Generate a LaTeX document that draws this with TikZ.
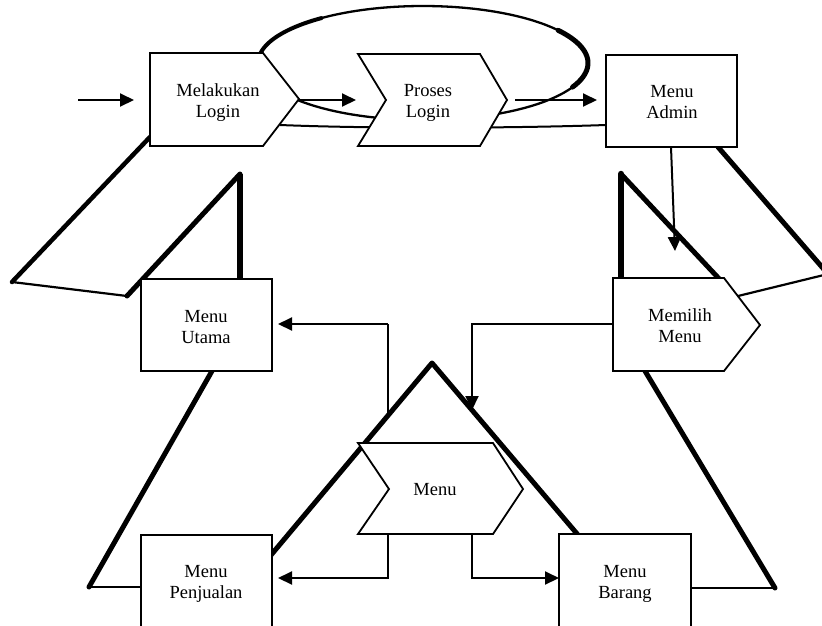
\documentclass[tikz,border=0pt]{standalone}
\usepackage{fontspec}
\setmainfont{Liberation Serif}
\usetikzlibrary{arrows.meta}
\begin{document}
\begin{tikzpicture}[x=1pt,y=-1pt,
  box/.style={draw,line width=1.8pt,fill=white,line join=miter},
  heavy/.style={line width=5pt,line join=round,line cap=round},
  lite/.style={line width=2.2pt,line cap=round},
  conn/.style={line width=2pt},
  arr/.style={conn,-{Triangle[length=14pt,width=13pt]}},
  lbl/.style={font=\fontsize{18.5}{21}\selectfont,align=center,inner sep=0pt}
]
\useasboundingbox (0,0) rectangle (822,625);
\begin{scope}
\clip (0,0) rectangle (822,625);
% ---------- top loop (ellipse) ----------
\draw[line width=2.3pt] (423,63) ellipse [x radius=165pt, y radius=57pt];
\draw[line width=5pt,line cap=round] plot[domain=-25:35,samples=40] ({423+165*cos(\x)},{63-57*sin(\x)});
\draw[line width=4pt,line cap=round] plot[domain=128:170,samples=30] ({423+165*cos(\x)},{63-57*sin(\x)});
% ---------- coordinates ----------
\coordinate (start) at (78,100);
\coordinate (mlIn) at (134,100);
\coordinate (mlTip) at (299,100);
\coordinate (mlLow) at (280,125);
\coordinate (prIn) at (356,100);
\coordinate (prTip) at (515,100);
\coordinate (adIn) at (597,100);
\coordinate (adLow) at (606,125);
\coordinate (adBot) at (671,147);
\coordinate (mmTop) at (675,251);
\coordinate (mmL) at (613,324);
\coordinate (triR) at (472,410);
\coordinate (triL) at (388,416);
\coordinate (muR) at (278,324);
\coordinate (mnBL) at (388,534);
\coordinate (mnBR) at (472,534);
\coordinate (mpR) at (278,578);
\coordinate (mbL) at (559,578);
% ---------- thick outline strokes ----------
% left upper
\draw[line width=4.5pt,line cap=round] (150,137) -- (12,282);
\draw[lite] (12,282) -- (127,296);
\draw[heavy] (127,296) -- (240,174);
\draw[line width=6pt,line join=round] (240,174) -- (240,282);
% right upper
\draw[line width=6.5pt,line cap=round] (621,282) -- (621,174);
\draw[heavy] (621,174) -- (724,284);
\draw[heavy] (718,147) -- (828,274);
\draw[lite] (828,274) -- (738,296);
% left lower
\draw[heavy] (212,371) -- (89,587);
\draw[lite] (89,587) -- (141,587);
% right lower
\draw[heavy] (645,371) -- (775,588);
\draw[lite] (775,588) -- (691,588);
% line under the top row
\draw[conn] (mlLow) .. controls (380,129) and (520,128) .. (adLow);
% ---------- top row shapes ----------
\draw[box] (150,53) -- (263,53) -- (299,99) -- (263,146) -- (150,146) -- cycle;
\node[lbl] (login1) at (218,103) {Melakukan\\Login};
\draw[box] (358,54) -- (480,54) -- (507,100) -- (480,146) -- (358,146) -- (386,100) -- cycle;
\node[lbl] (login2) at (428,103) {Proses\\Login};
\draw[box] (606,55) rectangle (737,147);
\node[lbl] (admin) at (672,102) {Menu\\Admin};
\draw[arr] (start) -- (mlIn);
\draw[arr] (mlTip) -- (prIn);
\draw[arr] (prTip) -- (adIn);
\draw[arr] (adBot) -- (mmTop);
% ---------- middle ----------
\draw[box] (613,278) -- (724,278) -- (760,325) -- (724,371) -- (613,371) -- cycle;
\node[lbl] (memilih) at (680,326) {Memilih\\Menu};
\draw[box] (141,279) rectangle (272,371);
\node[lbl] (utama) at (206,327) {Menu\\Utama};
\draw[conn] (triL) |- (388,324);
\draw[arr] (388,324) -- (muR);
% triangle
\draw[heavy] (266,561) -- (432,363) -- (584,542);
\draw[arr] (mmL) -| (triR);
% menu chevron
\draw[box] (358,443) -- (493,443) -- (523,489) -- (493,534) -- (358,534) -- (389,489) -- cycle;
\node[lbl] (menu) at (435,490) {Menu};
% ---------- bottom ----------
\draw[arr] (mnBL) |- (mpR);
\draw[arr] (mnBR) |- (mbL);
\draw[box] (141,535) rectangle (272,640);
\node[lbl] (penjualan) at (206,584) {Menu\\Penjualan};
\draw[box] (559,534) rectangle (691,640);
\node[lbl] (barang) at (625,584) {Menu\\Barang};
\end{scope}
\end{tikzpicture}
\end{document}
